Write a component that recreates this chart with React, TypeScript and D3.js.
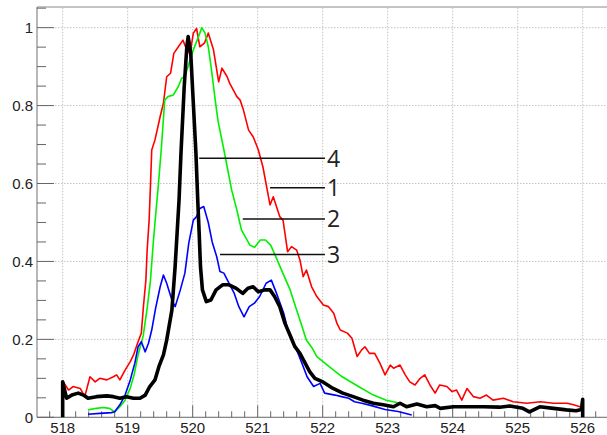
import React, { useEffect, useRef } from 'react';
import * as d3 from 'd3';

// spectra: [energy, normalised intensity]
const curve1: [number, number][] = [
  [518.01, 0.091], [518.09, 0.070], [518.16, 0.079], [518.27, 0.074], [518.34, 0.053],
  [518.42, 0.104], [518.50, 0.091], [518.57, 0.100], [518.68, 0.096], [518.78, 0.104],
  [518.83, 0.109], [518.88, 0.096], [518.96, 0.121], [519.04, 0.143], [519.09, 0.160],
  [519.16, 0.194], [519.21, 0.216], [519.24, 0.280], [519.28, 0.352], [519.30, 0.430],
  [519.33, 0.506], [519.35, 0.592], [519.37, 0.686], [519.42, 0.712], [519.50, 0.772],
  [519.55, 0.806], [519.60, 0.874], [519.66, 0.883], [519.71, 0.934], [519.78, 0.951],
  [519.85, 0.968], [519.92, 0.938], [519.96, 0.934], [520.01, 0.986], [520.06, 0.998],
  [520.11, 0.951], [520.18, 0.960], [520.24, 0.986], [520.32, 0.943], [520.40, 0.861],
  [520.45, 0.896], [520.53, 0.874], [520.57, 0.857], [520.68, 0.823], [520.73, 0.814],
  [520.78, 0.789], [520.86, 0.737], [520.93, 0.720], [520.99, 0.695], [521.01, 0.686],
  [521.08, 0.643], [521.19, 0.545], [521.24, 0.566], [521.34, 0.515], [521.39, 0.506],
  [521.46, 0.425], [521.52, 0.438], [521.60, 0.429], [521.65, 0.404], [521.70, 0.361],
  [521.75, 0.378], [521.83, 0.335], [521.91, 0.310], [522.01, 0.288], [522.09, 0.284],
  [522.17, 0.267], [522.22, 0.241], [522.27, 0.224], [522.38, 0.216], [522.45, 0.203],
  [522.53, 0.156], [522.60, 0.173], [522.65, 0.181], [522.72, 0.164], [522.80, 0.164],
  [522.88, 0.139], [522.96, 0.109], [523.04, 0.134], [523.09, 0.126], [523.19, 0.134],
  [523.27, 0.109], [523.34, 0.091], [523.42, 0.083], [523.50, 0.100], [523.57, 0.109],
  [523.65, 0.083], [523.73, 0.062], [523.80, 0.083], [523.91, 0.079], [523.99, 0.066],
  [524.06, 0.070], [524.14, 0.044], [524.22, 0.074], [524.32, 0.053], [524.42, 0.049],
  [524.52, 0.057], [524.62, 0.044], [524.78, 0.049], [524.93, 0.040], [525.14, 0.036],
  [525.35, 0.040], [525.55, 0.036], [525.76, 0.036], [525.86, 0.032], [525.96, 0.027],
  [526.00, 0.023],
];

const curve2: [number, number][] = [
  [518.39, 0.019], [518.52, 0.023], [518.62, 0.025], [518.72, 0.023], [518.80, 0.014],
  [518.88, 0.027], [518.96, 0.044], [519.04, 0.075], [519.10, 0.110], [519.16, 0.160],
  [519.24, 0.210], [519.30, 0.280], [519.35, 0.350], [519.39, 0.440], [519.42, 0.500],
  [519.47, 0.592], [519.52, 0.695], [519.57, 0.814], [519.62, 0.823], [519.70, 0.827],
  [519.78, 0.849], [519.83, 0.870], [519.88, 0.874], [519.96, 0.917], [520.01, 0.943],
  [520.09, 0.977], [520.14, 1.000], [520.19, 0.986], [520.24, 0.951], [520.29, 0.891],
  [520.34, 0.823], [520.39, 0.760], [520.47, 0.695], [520.52, 0.652], [520.60, 0.583],
  [520.68, 0.532], [520.75, 0.481], [520.88, 0.442], [520.95, 0.436], [521.04, 0.455],
  [521.12, 0.455], [521.20, 0.442], [521.30, 0.404], [521.41, 0.361], [521.50, 0.327],
  [521.57, 0.290], [521.65, 0.250], [521.75, 0.198], [521.83, 0.180], [521.91, 0.156],
  [522.10, 0.130], [522.30, 0.104], [522.55, 0.079], [522.78, 0.057], [522.98, 0.044],
  [523.19, 0.036], [523.35, 0.027],
];

const curve3: [number, number][] = [
  [518.39, 0.008], [518.57, 0.010], [518.75, 0.012], [518.80, 0.014], [518.88, 0.032],
  [518.96, 0.057], [519.04, 0.096], [519.11, 0.139], [519.16, 0.181], [519.21, 0.194],
  [519.27, 0.168], [519.32, 0.190], [519.37, 0.224], [519.43, 0.280], [519.50, 0.335],
  [519.55, 0.365], [519.60, 0.344], [519.68, 0.301], [519.73, 0.284], [519.81, 0.327],
  [519.88, 0.370], [519.94, 0.447], [520.01, 0.506], [520.06, 0.515], [520.11, 0.536],
  [520.17, 0.541], [520.24, 0.500], [520.30, 0.450], [520.37, 0.412], [520.42, 0.374],
  [520.48, 0.370], [520.56, 0.344], [520.64, 0.318], [520.71, 0.284], [520.79, 0.258],
  [520.87, 0.284], [520.95, 0.293], [521.03, 0.310], [521.13, 0.344], [521.21, 0.352],
  [521.29, 0.318], [521.40, 0.267], [521.47, 0.220], [521.55, 0.190], [521.60, 0.173],
  [521.68, 0.139], [521.76, 0.104], [521.86, 0.079], [521.96, 0.087], [522.03, 0.062],
  [522.19, 0.057], [522.29, 0.053], [522.40, 0.049], [522.49, 0.040], [522.60, 0.036],
  [522.75, 0.030], [522.96, 0.020], [523.16, 0.015], [523.37, 0.006],
];

const curve4: [number, number][] = [
  [518.00, 0.000], [518.00, 0.091], [518.06, 0.049], [518.14, 0.057], [518.24, 0.062],
  [518.32, 0.057], [518.39, 0.049], [518.52, 0.053], [518.68, 0.055], [518.78, 0.053],
  [518.88, 0.049], [518.98, 0.053], [519.09, 0.049], [519.19, 0.049], [519.27, 0.057],
  [519.34, 0.079], [519.42, 0.096], [519.48, 0.130], [519.55, 0.160], [519.60, 0.198],
  [519.68, 0.275], [519.73, 0.387], [519.76, 0.472], [519.79, 0.557], [519.82, 0.678],
  [519.87, 0.849], [519.91, 0.951], [519.93, 0.977], [519.97, 0.934], [520.01, 0.806],
  [520.05, 0.678], [520.08, 0.549], [520.10, 0.472], [520.12, 0.387], [520.15, 0.327],
  [520.21, 0.297], [520.28, 0.301], [520.36, 0.327], [520.46, 0.340], [520.56, 0.340],
  [520.67, 0.331], [520.77, 0.318], [520.85, 0.331], [520.93, 0.335], [521.01, 0.322],
  [521.11, 0.327], [521.19, 0.327], [521.26, 0.310], [521.34, 0.284], [521.42, 0.241],
  [521.50, 0.210], [521.57, 0.182], [521.65, 0.164], [521.73, 0.139], [521.80, 0.117],
  [521.88, 0.100], [522.01, 0.090], [522.16, 0.074], [522.31, 0.062], [522.47, 0.053],
  [522.62, 0.044], [522.78, 0.036], [522.93, 0.032], [523.09, 0.027], [523.19, 0.036],
  [523.29, 0.027], [523.45, 0.034], [523.60, 0.027], [523.73, 0.030], [523.81, 0.023],
  [524.01, 0.027], [524.22, 0.027], [524.47, 0.027], [524.72, 0.026], [524.88, 0.029],
  [525.08, 0.023], [525.18, 0.014], [525.34, 0.027], [525.55, 0.023], [525.75, 0.019],
  [525.90, 0.017], [525.98, 0.020], [526.00, 0.046], [526.00, 0.000],
];

const seriesData = [curve1, curve2, curve3, curve4];
const seriesColors = ['#ff0000', '#00f000', '#0000ff', '#000000'];
const seriesWidths = [1.6, 1.6, 1.6, 3.6];

// labels drawn as line + number
const labelNames = ['4', '1', '2', '3'];
const labelY = [0.665, 0.589, 0.509, 0.418];
const labelStartX = [520.1, 521.19, 520.77, 520.42];
const labelEndX = 522.035;

const xTicks = [518, 519, 520, 521, 522, 523, 524, 525, 526];
const yTicks = [0, 0.2, 0.4, 0.6, 0.8, 1];
const yTickLabels = ['0', '0.2', '0.4', '0.6', '0.8', '1'];

const W = 607, H = 435;

const Chart = () => {
  const ref = useRef<SVGSVGElement>(null);

  useEffect(() => {
    const svg = d3.select(ref.current);
    svg.selectAll('*').remove();

    const x = d3.scaleLinear().domain([517.605, 526.374]).range([37, 607]);
    const y = d3.scaleLinear().domain([0, 1.053]).range([417.3, 7]);

    // grid
    const grid = svg.append('g').attr('stroke', '#c4c4c4').attr('stroke-dasharray', '1.5,1.5').attr('stroke-width', 1);
    xTicks.forEach(t => {
      grid.append('line').attr('x1', x(t)).attr('x2', x(t)).attr('y1', y(0)).attr('y2', 7);
    });
    yTicks.forEach(t => {
      grid.append('line').attr('x1', 37).attr('x2', W).attr('y1', y(t)).attr('y2', y(t));
    });

    // frame
    svg.append('line').attr('x1', 37).attr('x2', W).attr('y1', 7).attr('y2', 7)
      .attr('stroke', '#b0b0b0').attr('stroke-width', 1.4);
    svg.append('line').attr('x1', 37).attr('x2', 37).attr('y1', 7).attr('y2', y(0))
      .attr('stroke', '#888').attr('stroke-width', 1.2);
    svg.append('line').attr('x1', 37).attr('x2', W).attr('y1', y(0)).attr('y2', y(0))
      .attr('stroke', '#888').attr('stroke-width', 1.2);

    // ticks
    const ticks = svg.append('g').attr('stroke', '#666').attr('stroke-width', 1);
    d3.range(517.8, 526.38, 0.2).forEach(t => {
      const major = Math.abs(t - Math.round(t)) < 1e-6;
      ticks.append('line').attr('x1', x(t)).attr('x2', x(t))
        .attr('y1', y(0)).attr('y2', y(0) - (major ? 12 : 6));
    });
    d3.range(0, 1.051, 0.05).forEach(t => {
      const major = Math.abs(t * 5 - Math.round(t * 5)) < 1e-6;
      ticks.append('line').attr('x1', 37).attr('x2', 37 + (major ? 17 : 9))
        .attr('y1', y(t)).attr('y2', y(t));
    });

    // tick labels
    const font = '"Liberation Sans", Arial, sans-serif';
    svg.append('g').selectAll('text').data(xTicks).join('text')
      .attr('x', d => x(d)).attr('y', 433).attr('text-anchor', 'middle')
      .attr('font-family', font).attr('font-size', 15).attr('fill', '#222')
      .text(d => String(d));
    svg.append('g').selectAll('text').data(yTicks).join('text')
      .attr('x', 33).attr('y', d => y(d) + 5.3).attr('text-anchor', 'end')
      .attr('font-family', font).attr('font-size', 15).attr('fill', '#222')
      .text((d, i) => yTickLabels[i]);

    // curves
    const line = d3.line<[number, number]>().x(d => x(d[0])).y(d => y(d[1]));
    seriesData.forEach((data, i) => {
      svg.append('path').datum(data)
        .attr('fill', 'none').attr('stroke', seriesColors[i])
        .attr('stroke-width', seriesWidths[i]).attr('stroke-linejoin', 'round')
        .attr('d', line);
    });

    // labels
    labelNames.forEach((name, i) => {
      svg.append('line')
        .attr('x1', x(labelStartX[i])).attr('x2', x(labelEndX))
        .attr('y1', y(labelY[i])).attr('y2', y(labelY[i]))
        .attr('stroke', '#111').attr('stroke-width', 1.5);
      svg.append('text')
        .attr('x', x(labelEndX) + 2).attr('y', y(labelY[i]) + 8.4)
        .attr('font-family', '"Open Sans", sans-serif').attr('font-size', 23)
        .attr('fill', '#222').text(name);
    });
  }, []);

  return (
    <svg ref={ref} width={W} height={H}
      style={{ position: 'absolute', left: 0, top: 0, background: '#fff' }} />
  );
};

export default function App() {
  return <Chart />;
}
